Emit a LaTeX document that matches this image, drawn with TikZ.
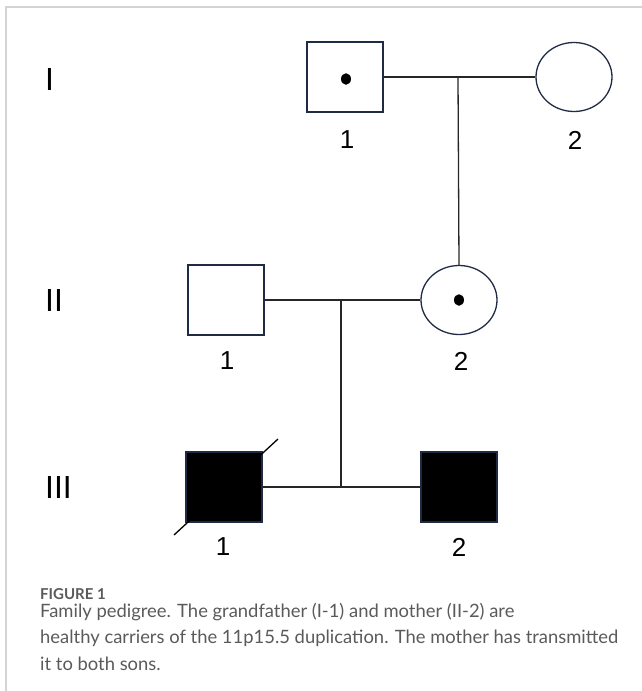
\documentclass[tikz,border=0pt]{standalone}
\usepackage{fontspec}
\setmainfont{Liberation Sans}
\newfontfamily\capfont{Lato}
\usetikzlibrary{shapes.geometric}
\definecolor{symline}{HTML}{1F2A44}
\definecolor{capgray}{HTML}{5A5A5A}
\definecolor{framegray}{HTML}{D4D4D4}
\tikzset{
  male/.style={draw=symline, line width=1.3pt, rectangle, minimum width=76pt, minimum height=70pt, inner sep=0pt},
  female/.style={draw=symline, line width=1.3pt, ellipse, minimum width=76pt, minimum height=69pt, inner sep=0pt},
  affected/.style={fill=black},
  carrierdot/.style={fill=black, ellipse, minimum width=10pt, minimum height=11.5pt, inner sep=0pt},
  rel/.style={draw=black!85, line width=1.3pt},
  numlab/.style={font=\fontsize{26}{26}\selectfont, inner sep=0pt, anchor=center},
  genlab/.style={font=\fontsize{32}{32}\selectfont, inner sep=0pt, anchor=west},
  captext/.style={font=\capfont\fontsize{18.4}{20}\selectfont, text=capgray, inner sep=0pt, anchor=base west}
}
\begin{document}
\begin{tikzpicture}[x=1pt,y=-1pt]
\useasboundingbox (0,0) rectangle (642,691);
% frame
\draw[framegray, line width=1.2pt] (642,7) -- (6,7) -- (6,691);
% generation labels
\node[genlab] (gI) at (45,79) {I};
\node[genlab] (gII) at (45,300) {II};
\node[genlab] (gIII) at (45,487) {III};
% generation I
\node[male] (I1) at (345,77) {};
\node[female] (I2) at (574,77) {};
\node[carrierdot] (d1) at (346,79) {};
\node[numlab] (lI1) at (347,140) {1};
\node[numlab] (lI2) at (575,140) {2};
% generation II
\node[male] (II1) at (226,300) {};
\node[female] (II2) at (459,300) {};
\node[carrierdot] (d2) at (459,300) {};
\node[numlab] (lII1) at (227,361) {1};
\node[numlab] (lII2) at (461,361) {2};
% generation III
\node[male, affected] (III1) at (224,487) {};
\node[male, affected] (III2) at (459,487) {};
\node[numlab] (lIII1) at (223,547) {1};
\node[numlab] (lIII2) at (459,547) {2};
% relationships
\coordinate (m1) at (458,77);
\coordinate (m2) at (341,300);
\coordinate (s3) at (341,487);
\draw[rel] (I1.east) -- (I2.west);
\draw[rel] (m1) -- (II2.north);
\draw[rel] (II1.east) -- (II2.west);
\draw[rel] (m2) -- (s3);
\draw[rel] (III1.east) -- (III2.west);
% deceased slash
\coordinate (sl1) at (174,535);
\coordinate (sl2) at (278,439);
\draw[black, line width=1.3pt] (sl1) -- (sl2);
% caption
\node[font=\capfont\bfseries\fontsize{15}{18}\selectfont, text=capgray, inner sep=0pt, anchor=base west] (fig) at (40,599) {FIGURE 1};
\node[captext] (c1) at (40,617) {Family pedigree. The grandfather (I-1) and mother (II-2) are};
\node[captext] (c2) at (40,643.5) {healthy carriers of the 11p15.5 duplication. The mother has transmitted};
\node[captext] (c3) at (40,670) {it to both sons.};
\end{tikzpicture}
\end{document}
